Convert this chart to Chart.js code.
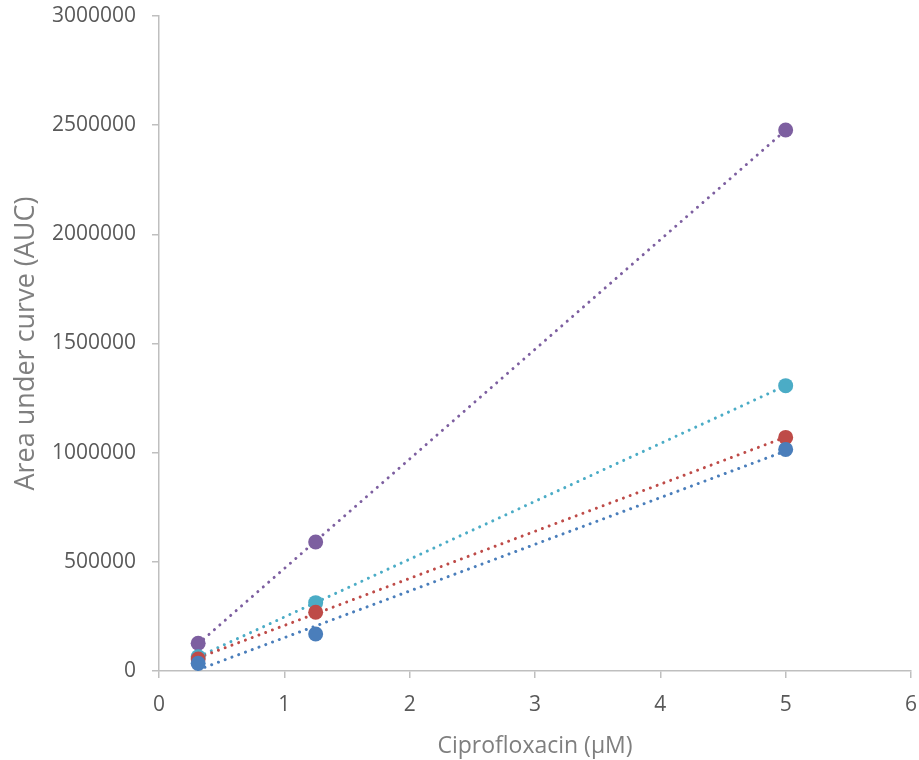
<!DOCTYPE html>
<html>
<head>
<meta charset="utf-8">
<script src="https://cdn.jsdelivr.net/npm/chart.js@4/dist/chart.umd.min.js"></script>
<style>
  html, body { margin: 0; padding: 0; background: #ffffff; }
  #wrap { width: 919px; height: 760px; }
</style>
</head>
<body>
<div id="wrap"><canvas id="chart" width="919" height="760"></canvas></div>
<script>
// Ciprofloxacin concentrations (µM)
const concentrations = [0.3125, 1.25, 5];

// AUC for each series
const blueAuc = [35000, 169500, 1015000];
const redAuc = [55000, 269000, 1070000];
const tealAuc = [65500, 313000, 1307000];
const purpleAuc = [127000, 591000, 2478000];

const yTicks = [0, 500000, 1000000, 1500000, 2000000, 2500000, 3000000];
const xTicks = [0, 1, 2, 3, 4, 5, 6];

const seriesColors = ['#4a7ebb', '#be4b48', '#4bacc6', '#7d5fa0'];
const seriesValues = [blueAuc, redAuc, tealAuc, purpleAuc];

// least squares fit, drawn across the measured range
function trend(xs, ys) {
    const n = xs.length;
    const mx = xs.reduce((a, b) => a + b, 0) / n;
    const my = ys.reduce((a, b) => a + b, 0) / n;
    let sxy = 0, sxx = 0;
    for (let i = 0; i < n; i++) {
        sxy += (xs[i] - mx) * (ys[i] - my);
        sxx += (xs[i] - mx) * (xs[i] - mx);
    }
    const slope = sxy / sxx;
    const icpt = my - slope * mx;
    const x0 = Math.min(...xs), x1 = Math.max(...xs);
    return [{ x: x0, y: icpt + slope * x0 }, { x: x1, y: icpt + slope * x1 }];
}

const datasets = [];
seriesValues.forEach((vals, i) => {
    datasets.push({
        type: 'line',
        data: trend(concentrations, vals),
        borderColor: seriesColors[i],
        borderWidth: 3,
        borderDash: [0.01, 7.2],
        borderCapStyle: 'round',
        pointRadius: 0,
        fill: false,
        order: 10
    });
});
seriesValues.forEach((vals, i) => {
    datasets.push({
        type: 'scatter',
        data: concentrations.map((x, j) => ({ x: x, y: vals[j] })),
        backgroundColor: seriesColors[i],
        borderColor: seriesColors[i],
        pointRadius: 7.5,
        pointBorderWidth: 0,
        order: i
    });
});

const tickFont = { family: '"Open Sans", sans-serif', size: 21, lineHeight: 1 };
const axisGray = '#bfbfbf';

new Chart(document.getElementById('chart'), {
    type: 'scatter',
    data: { datasets: datasets },
    options: {
        responsive: false,
        animation: false,
        layout: { autoPadding: false, padding: { top: 16, right: 8, left: 10, bottom: 0 } },
        plugins: { legend: { display: false }, tooltip: { enabled: false } },
        scales: {
            x: {
                type: 'linear',
                min: 0,
                max: 6,
                afterBuildTicks: axis => { axis.ticks = xTicks.map(v => ({ value: v })); },
                afterFit: axis => {
                    axis.height = 89;
                    axis.paddingLeft = 0;
                    axis.paddingRight = 0;
                },
                grid: { drawOnChartArea: false, drawTicks: true, tickLength: 7, color: axisGray, lineWidth: 1.5 },
                border: { color: axisGray, width: 1.5 },
                ticks: { color: '#595959', font: tickFont, padding: 17, callback: v => String(v) },
                title: {
                    display: true,
                    text: 'Ciprofloxacin (μM)',
                    color: '#7f7f7f',
                    font: { family: '"Open Sans", sans-serif', size: 23 },
                    padding: { top: 8, bottom: 0 }
                }
            },
            y: {
                min: 0,
                max: 3000000,
                afterBuildTicks: axis => { axis.ticks = yTicks.map(v => ({ value: v })); },
                afterFit: axis => {
                    axis.width = 149;
                    axis.paddingTop = 0;
                    axis.paddingBottom = 0;
                },
                grid: { drawOnChartArea: false, drawTicks: true, tickLength: 7, color: axisGray, lineWidth: 1.5 },
                border: { color: axisGray, width: 1.5 },
                ticks: { color: '#595959', font: tickFont, padding: 16, callback: v => String(v) },
                title: {
                    display: true,
                    text: 'Area under curve (AUC)',
                    color: '#7f7f7f',
                    font: { family: '"Open Sans", sans-serif', size: 27 },
                    padding: { top: 0, bottom: 4 }
                }
            }
        }
    }
});
</script>
</body>
</html>
